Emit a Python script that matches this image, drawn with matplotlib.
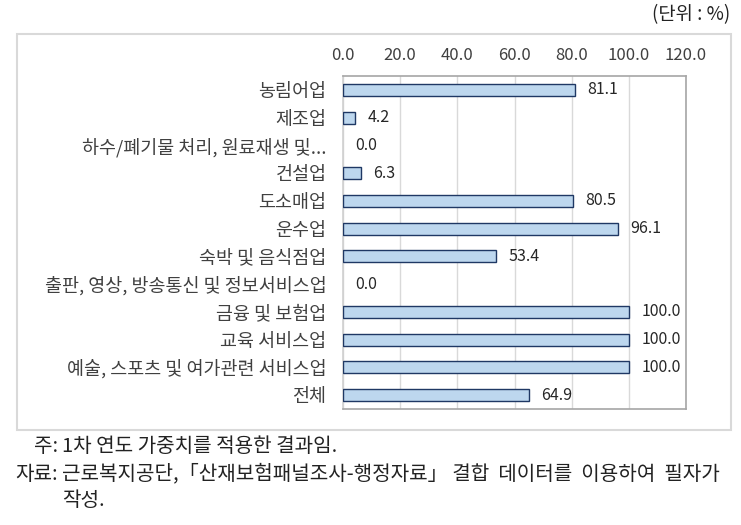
import matplotlib
matplotlib.use("Agg")
import matplotlib.pyplot as plt
from matplotlib.patches import Rectangle

plt.rcParams['font.family'] = ['Noto Sans CJK KR', 'DejaVu Sans']

categories = ["농림어업", "제조업", "하수/폐기물 처리, 원료재생 및...", "건설업", "도소매업",
              "운수업", "숙박 및 음식점업", "출판, 영상, 방송통신 및 정보서비스업",
              "금융 및 보험업", "교육 서비스업", "예술, 스포츠 및 여가관련 서비스업", "전체"]
values = [81.1, 4.2, 0.0, 6.3, 80.5, 96.1, 53.4, 0.0, 100.0, 100.0, 100.0, 64.9]
xticks = [0, 20, 40, 60, 80, 100, 120]

fig = plt.figure(figsize=(7.41, 5.25), dpi=100)

# outer chart frame
fig.patches.append(Rectangle((17/741, 1-430/525), (731-17)/741, (430-34)/525,
                             transform=fig.transFigure, fill=False,
                             edgecolor='#d9d9d9', linewidth=1.5))

ax = fig.add_axes([343/741, 1-409/525, (686-343)/741, (409-76)/525])
y = list(range(len(categories)))
lws = [1.0 if v > 0 else 0.0 for v in values]
ax.barh(y, values, height=0.43, color='#bdd7ee', edgecolor='#1f3864', linewidth=lws, zorder=3)
for yi, v in zip(y, values):
    ax.annotate(f"{v:.1f}", (v, yi), xytext=(9, 0), textcoords='offset points',
                va='center', ha='left', fontsize=11.5, color='#262626')
ax.set_xlim(0, 120)
ax.set_ylim(11.5, -0.5)
ax.set_xticks(xticks)
ax.set_xticklabels([f"{t:.1f}" for t in xticks], fontsize=12, color='#404040')
ax.xaxis.tick_top()
ax.tick_params(axis='x', length=0, pad=9)
ax.set_yticks(y)
ax.set_yticklabels(categories, fontsize=13.3, color='#404040')
ax.tick_params(axis='y', length=0, pad=12)
ax.grid(axis='x', color='#d9d9d9', linewidth=1.0, zorder=0)
for name, s in ax.spines.items():
    s.set_color('#a6a6a6' if name != 'left' else '#d0d0d0')
    s.set_linewidth(1.2)

tc = '#222222'
fs = 14.5
fig.text(730/741, 1-15/525, "(단위 : %)", ha='right', va='center', fontsize=13.5, color=tc)
fig.text(58/741, 1-447/525, "주:", ha='right', va='center', fontsize=fs, color=tc)
fig.text(62/741, 1-447/525, "1차 연도 가중치를 적용한 결과임.", ha='left', va='center', fontsize=fs, color=tc)
fig.text(58/741, 1-474/525, "자료:", ha='right', va='center', fontsize=fs, color=tc)
fig.text(62/741, 1-474/525, "근로복지공단,「산재보험패널조사-행정자료」 결합  데이터를  이용하여  필자가",
         ha='left', va='center', fontsize=fs, color=tc)
fig.text(62/741, 1-501/525, "작성.", ha='left', va='center', fontsize=fs, color=tc)

fig.savefig("out.png", dpi=100)
